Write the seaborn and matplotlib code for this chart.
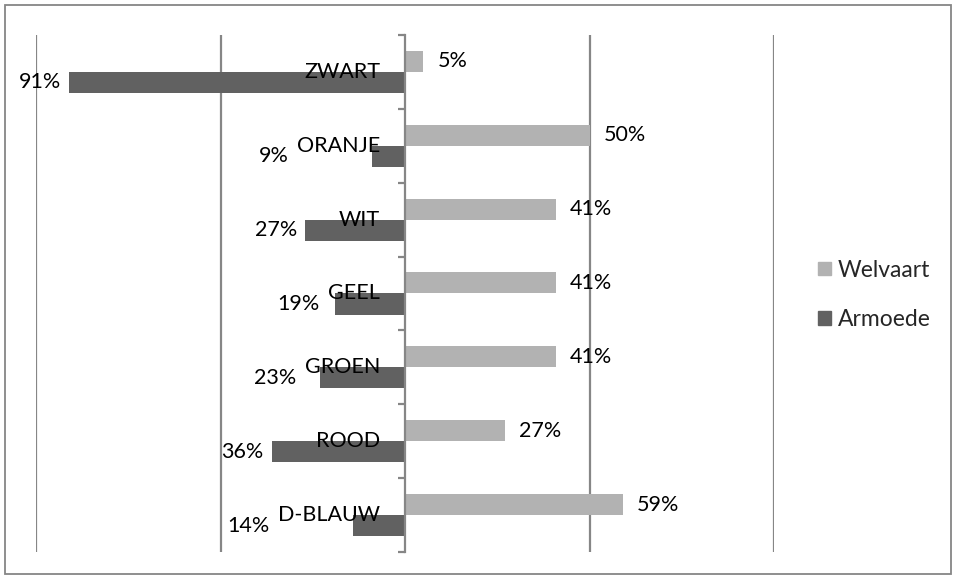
import matplotlib
matplotlib.use("Agg")
import matplotlib.pyplot as plt
import matplotlib.patches as mpatches
import seaborn as sns
import pandas as pd

categories = ["ZWART", "ORANJE", "WIT", "GEEL", "GROEN", "ROOD", "D-BLAUW"]
welvaart = [5, 50, 41, 41, 41, 27, 59]
armoede = [91, 9, 27, 19, 23, 36, 14]
series = ["Welvaart", "Armoede"]
colors = {"Welvaart": "#b2b2b2", "Armoede": "#616161"}
grid_ticks = [-100, -50, 50, 100]

sns.set_theme(style="white")
plt.rcParams["font.family"] = ["Lato", "DejaVu Sans"]

df = pd.DataFrame({
    "categorie": categories * 2,
    "reeks": ["Welvaart"] * len(categories) + ["Armoede"] * len(categories),
    "waarde": welvaart + [-v for v in armoede],
})

W, H = 957, 579
fig = plt.figure(figsize=(W / 100, H / 100), dpi=100)
ax = fig.add_axes([36 / W, 1 - 552 / H, 738 / W, 517 / H])

sns.barplot(data=df, x="waarde", y="categorie", hue="reeks", order=categories,
            hue_order=series, palette=colors, orient="h", width=0.57,
            dodge=True, legend=False, ax=ax, saturation=1, linewidth=0)

ax.set_xlim(-100, 100)
ax.set_ylim(len(categories) - 0.5, -0.5)
ax.set_xlabel("")
ax.set_ylabel("")
ax.set_xticks([])

axis_col = "#868686"
for g in grid_ticks:
    ax.axvline(g, color=axis_col, lw=1.6, zorder=0)

for s in ["top", "right", "bottom"]:
    ax.spines[s].set_visible(False)
ax.spines["left"].set_position(("data", 0))
ax.spines["left"].set_color(axis_col)
ax.spines["left"].set_linewidth(1.6)
ax.set_yticks([i - 0.5 for i in range(len(categories) + 1)])
ax.set_yticklabels([])
ax.tick_params(axis="y", direction="out", length=5, width=1.6, color=axis_col, left=True)

fs = 15.5
cat_texts = []
for i, c in enumerate(categories):
    t = ax.annotate(c, xy=(0, i), xytext=(-18, 0), textcoords="offset points",
                    ha="right", va="center", fontsize=fs, color="black", zorder=5)
    cat_texts.append(t)

bar_h = 0.57 / 2
for i, v in enumerate(welvaart):
    ax.annotate(f"{v}%", xy=(v, i - bar_h / 2), xytext=(10, 0), textcoords="offset points",
                ha="left", va="center", fontsize=fs, color="black")

fig.canvas.draw()
renderer = fig.canvas.get_renderer()
inv = ax.transData.inverted()
for i, v in enumerate(armoede):
    bb = cat_texts[i].get_window_extent(renderer)
    label_left = inv.transform((bb.x0, 0))[0]
    anchor = min(-v, label_left)
    ax.annotate(f"{v}%", xy=(anchor, i + bar_h / 2), xytext=(-6, 0), textcoords="offset points",
                ha="right", va="center", fontsize=fs, color="black")

handles = [mpatches.Patch(color=colors[s], label=s) for s in series]
fig.legend(handles=handles, loc="center left", bbox_to_anchor=(818 / W, 1 - 295 / H),
           frameon=False, fontsize=16.5, handlelength=0.55, handleheight=0.55,
           handletextpad=0.3, labelspacing=1.25, borderpad=0, borderaxespad=0)

fig.patches.append(mpatches.Rectangle((5 / W, 5 / H), 946 / W, 569 / H, transform=fig.transFigure,
                                      fill=False, edgecolor=axis_col, lw=1.3))

fig.savefig("out.png", dpi=100)
